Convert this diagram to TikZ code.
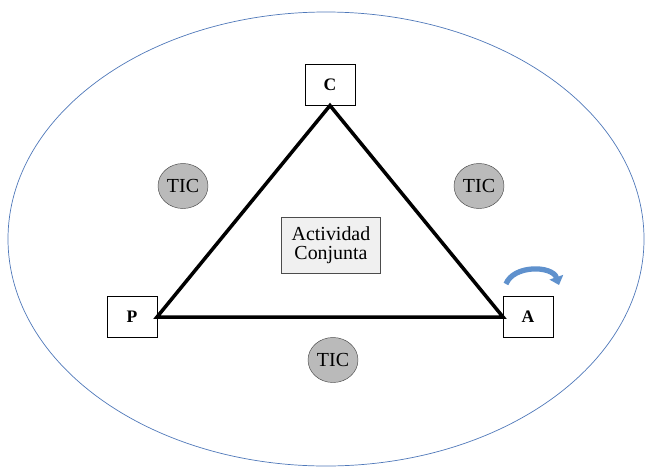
\documentclass[tikz,border=0pt]{standalone}
\usepackage{fontspec}
\setmainfont{Liberation Serif}
\usepackage{tikz}
\usetikzlibrary{shapes.geometric,arrows.meta}

\definecolor{borde}{RGB}{79,120,185}
\definecolor{flecha}{RGB}{95,145,205}

\begin{document}
\begin{tikzpicture}[x=0.03cm,y=-0.03cm,
  vertice/.style={draw, fill=white, minimum width=1.5cm, minimum height=1.23cm, font=\fontsize{15}{17}\selectfont\bfseries, outer sep=0pt},
  tic/.style={ellipse, draw=black!70, fill=black!27, minimum width=1.5cm, minimum height=1.35cm, inner sep=0pt, font=\fontsize{17}{19}\selectfont},
  centro/.style={draw=black!70, fill=black!6, minimum width=2.97cm, minimum height=1.68cm, inner sep=2pt, align=center, font=\fontsize{17}{18}\selectfont}]
\useasboundingbox (0,0) rectangle (649,468);

\draw[borde, line width=0.6pt] (326,239) ellipse [x radius=318, y radius=227];

\node[vertice] (C) at (330,85) {C};
\node[vertice] (P) at (132,317) {P};
\node[vertice] (A) at (528,317) {A};

\draw[line width=3pt, line join=miter] (P.east) -- (C.south) -- (A.west) -- cycle;

\node[centro] (act) at (331,245) {Actividad\\[-2pt]Conjunta};

\node[tic] (tic1) at (183,186) {TIC};
\node[tic] (tic2) at (479,186) {TIC};
\node[tic] (tic3) at (333,360) {TIC};

% flecha curva sobre A
\coordinate (f1) at (506,284);
\coordinate (f2) at (559,285);
\draw[flecha, line width=4.5pt, -{Triangle[length=7pt,width=12pt]}] (f1) to[bend left=70] (f2);
\end{tikzpicture}
\end{document}
